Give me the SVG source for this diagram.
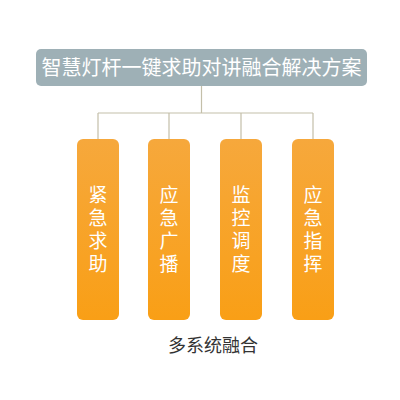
<svg xmlns="http://www.w3.org/2000/svg" width="400" height="400" viewBox="0 0 400 400">
<defs>
<linearGradient id="og" x1="0" y1="0" x2="0" y2="1">
<stop offset="0" stop-color="#f6a83c"/>
<stop offset="1" stop-color="#f99f16"/>
</linearGradient>
<style>
.box{fill:url(#og);}
.vt{font-family:"Noto Sans CJK SC","Noto Sans",sans-serif;font-size:19px;fill:#ffffff;text-anchor:middle;writing-mode:vertical-rl;letter-spacing:4px;}
.ln{stroke:#c4bfa9;stroke-width:1.2;fill:none;}
</style>
</defs>
<rect width="400" height="400" fill="#ffffff"/>
<g id="connectors">
<path class="ln" d="M201.5 86V113M98 113H313M98 113V139M169 113V139M241 113V139M313 113V139"/>
</g>
<g id="title">
<rect x="36" y="49" width="331" height="37" rx="5" fill="#9eb0b6"/>
<text x="201.5" y="75" font-family="Noto Sans CJK SC,Noto Sans,sans-serif" font-size="20" fill="#ffffff" text-anchor="middle">智慧灯杆一键求助对讲融合解决方案</text>
</g>
<g id="n1">
<rect class="box" x="77" y="139" width="42" height="181" rx="6"/>
<text class="vt" x="98" y="231">紧急求助</text>
</g>
<g id="n2">
<rect class="box" x="148" y="139" width="42" height="181" rx="6"/>
<text class="vt" x="169" y="231">应急广播</text>
</g>
<g id="n3">
<rect class="box" x="220" y="139" width="42" height="181" rx="6"/>
<text class="vt" x="241" y="231">监控调度</text>
</g>
<g id="n4">
<rect class="box" x="292" y="139" width="42" height="181" rx="6"/>
<text class="vt" x="313" y="231">应急指挥</text>
</g>
<g id="footer">
<text x="213" y="352" font-family="Noto Sans CJK SC,Noto Sans,sans-serif" font-size="18" fill="#333333" text-anchor="middle">多系统融合</text>
</g>
</svg>
